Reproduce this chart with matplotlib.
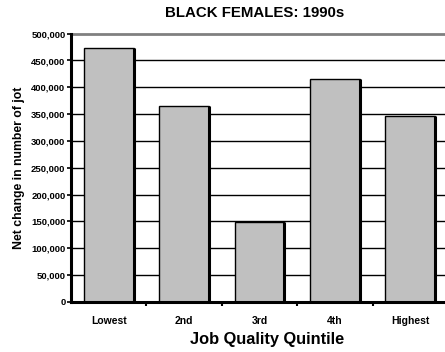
import matplotlib
matplotlib.use("Agg")
import matplotlib.pyplot as plt

categories = ["Lowest", "2nd", "3rd", "4th", "Highest"]
net_change = [473000, 365000, 148000, 416000, 346000]
y_ticks = [0, 50000, 100000, 150000, 200000, 250000, 300000, 350000, 400000, 450000, 500000]

plt.rcParams["font.family"] = ["Liberation Sans", "DejaVu Sans"]
plt.rcParams["font.weight"] = "bold"

fig = plt.figure(figsize=(4.45, 3.52), dpi=100)
ax = fig.add_axes([71 / 445, 50.3 / 352, 377 / 445, 268 / 352])

x = list(range(len(categories)))
ax.set_xlim(-0.5, len(categories) - 0.5)
ax.set_ylim(0, 500000)

# horizontal gridlines, top one grey
for t in y_ticks[1:-1]:
    ax.axhline(t, color="black", lw=1.0, zorder=1)
ax.axhline(y_ticks[-1], color="#808080", lw=2.0, zorder=1, clip_on=False)

bars = ax.bar(x, net_change, width=0.66, color="#c0c0c0", edgecolor="black",
              linewidth=1.0, zorder=2)
# darker right edge on each bar
for b in bars:
    rx = b.get_x() + b.get_width()
    ax.plot([rx, rx], [0, b.get_height()], color="black", lw=2.2, zorder=3,
            solid_capstyle="butt")

ax.set_yticks(y_ticks)
ax.set_yticklabels([f"{v:,}" for v in y_ticks], fontsize=6.8, fontweight="bold")
ax.set_xticks(x)
ax.set_xticklabels(categories, fontsize=7.5, fontweight="bold")
ax.tick_params(axis="x", length=0, pad=10)
ax.tick_params(axis="y", length=3, width=1.2, pad=1)

# minor ticks between categories on the x axis
ax.set_xticks([i + 0.5 for i in x[:-1]], minor=True)
ax.tick_params(axis="x", which="minor", length=3, width=1.5, direction="out")

for s in ["top", "right"]:
    ax.spines[s].set_visible(False)
ax.spines["left"].set_linewidth(2.2)
ax.spines["bottom"].set_linewidth(2.2)

ax.set_ylabel("Net change in number of jot", fontsize=8.8, fontweight="bold")
ax.yaxis.set_label_coords(-(71 - 25) / 377, 0.5)
ax.set_xlabel("Job Quality Quintile", fontsize=11.8, fontweight="bold")
ax.xaxis.set_label_coords((267 - 71) / 377, -(332 - 301.7) / 268)
fig.text(255 / 445, 1 - 13 / 352, "BLACK FEMALES: 1990s", ha="center", va="center",
         fontsize=10.8, fontweight="bold")

fig.savefig("out.png", dpi=100)
